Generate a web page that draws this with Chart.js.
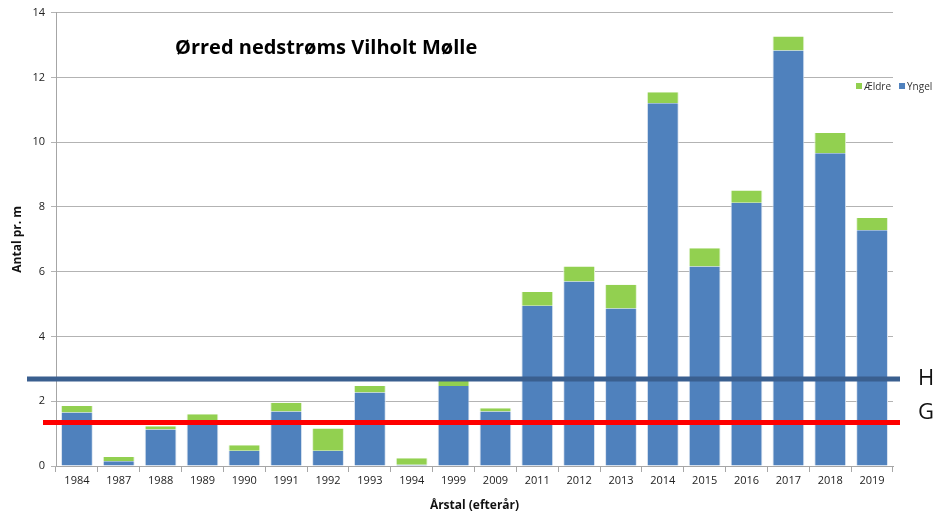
<!DOCTYPE html>
<html>
<head>
<meta charset="utf-8">
<script src="https://cdn.jsdelivr.net/npm/chart.js@4.4.1/dist/chart.umd.min.js"></script>
<style>
  html, body { margin: 0; padding: 0; background: #fff; }
  #wrap { width: 938px; height: 513px; position: relative; }
</style>
</head>
<body>
<div id="wrap"><canvas id="troutChart"></canvas></div>
<script>
// Data
var years = ['1984', '1987', '1988', '1989', '1990', '1991', '1992', '1993', '1994', '1999',
             '2009', '2011', '2012', '2013', '2014', '2015', '2016', '2017', '2018', '2019'];
var yngel = [1.65, 0.15, 1.13, 1.32, 0.47, 1.68, 0.47, 2.27, 0.04, 2.47,
             1.68, 4.95, 5.70, 4.86, 11.20, 6.16, 8.13, 12.83, 9.66, 7.28];
var aeldre = [0.20, 0.13, 0.10, 0.28, 0.17, 0.27, 0.69, 0.20, 0.20, 0.18,
              0.10, 0.42, 0.46, 0.74, 0.34, 0.56, 0.38, 0.43, 0.62, 0.38];
var yTicks = [0, 2, 4, 6, 8, 10, 12, 14];

// Reference levels drawn across the chart
var levelLabels = ['H', 'G'];
var levelValues = [2.69, 1.34];
var levelColors = ['#3a5f8f', '#ff0000'];

var chartTitle = 'Ørred nedstrøms Vilholt Mølle';

// title, legend and level lines
var overlay = {
  id: 'overlay',
  afterDatasetsDraw: function (chart) {
    var ctx = chart.ctx;
    var area = chart.chartArea;
    var y = chart.scales.y;
    ctx.save();

    // level lines with letters on the right
    levelValues.forEach(function (v, i) {
      var py = y.getPixelForValue(v);
      ctx.strokeStyle = levelColors[i];
      ctx.lineWidth = 5;
      ctx.beginPath();
      ctx.moveTo(i === 0 ? area.left - 29 : area.left - 13, py);
      ctx.lineTo(area.right + 7, py);
      ctx.stroke();
      ctx.fillStyle = '#111';
      ctx.font = '22px "Open Sans", sans-serif';
      ctx.textAlign = 'left';
      ctx.textBaseline = 'middle';
      ctx.fillText(levelLabels[i], area.right + 25, i === 0 ? py : py - 10);
    });

    // title inside the plot
    ctx.fillStyle = '#000';
    ctx.font = 'bold 20px "Open Sans", sans-serif';
    ctx.textAlign = 'left';
    ctx.textBaseline = 'middle';
    ctx.fillText(chartTitle, area.left + 119, 48);

    // legend: Ældre, Yngel
    ctx.font = '10px "Open Sans", sans-serif';
    var items = [chart.data.datasets[1], chart.data.datasets[0]];
    var lx = 856;
    items.forEach(function (ds) {
      ctx.fillStyle = ds.backgroundColor;
      ctx.fillRect(lx, 83, 6, 6);
      ctx.fillStyle = '#333';
      ctx.fillText(ds.label, lx + 8, 87);
      lx += 16 + ctx.measureText(ds.label).width;
    });
    ctx.restore();
  }
};

var ctx = document.getElementById('troutChart').getContext('2d');

var troutChart = new Chart(ctx, {
  type: 'bar',
  data: {
    labels: years,
    datasets: [{
      label: 'Yngel',
      data: yngel,
      backgroundColor: '#4f81bd',
      borderColor: '#d9e3f0',
      borderWidth: { left: 1, right: 1, top: 0, bottom: 0 },
      borderSkipped: false,
      barPercentage: 0.76,
      categoryPercentage: 1
    }, {
      label: 'Ældre',
      data: aeldre,
      backgroundColor: '#92d050',
      borderColor: '#e2f2d2',
      borderWidth: { left: 1, right: 1, top: 0, bottom: 0 },
      borderSkipped: false,
      barPercentage: 0.76,
      categoryPercentage: 1
    }]
  },
  options: {
    responsive: true,
    maintainAspectRatio: false,
    animation: false,
    layout: { padding: { top: 11, right: 45, left: 0, bottom: 0 } },
    plugins: {
      legend: { display: false },
      tooltip: { enabled: false }
    },
    scales: {
      x: {
        stacked: true,
        grid: {
          display: true,
          drawOnChartArea: false,
          color: '#a6a6a6',
          tickLength: 6,
          offset: true
        },
        border: { color: '#a6a6a6' },
        ticks: {
          color: '#222',
          font: { family: '"Open Sans", sans-serif', size: 11 },
          maxRotation: 0,
          autoSkip: false,
          padding: 2
        },
        title: {
          display: true,
          text: 'Årstal (efterår)',
          color: '#111',
          font: { family: '"Open Sans", sans-serif', size: 12, weight: 'bold' },
          padding: { top: 0, bottom: 0 }
        },
        afterFit: function (scale) { scale.height = 47; }
      },
      y: {
        stacked: true,
        min: 0,
        max: 14,
        afterBuildTicks: function (scale) {
          scale.ticks = yTicks.map(function (v) { return { value: v }; });
        },
        grid: {
          color: '#b3b3b3',
          tickLength: 5
        },
        border: { color: '#a6a6a6' },
        ticks: {
          color: '#222',
          font: { family: '"Open Sans", sans-serif', size: 11 },
          padding: 6
        },
        title: {
          display: true,
          text: 'Antal pr. m',
          color: '#111',
          font: { family: '"Open Sans", sans-serif', size: 12, weight: 'bold' },
          padding: { top: 10, bottom: 2 }
        },
        afterFit: function (scale) { scale.width = 56; }
      }
    }
  },
  plugins: [overlay]
});
</script>
</body>
</html>
